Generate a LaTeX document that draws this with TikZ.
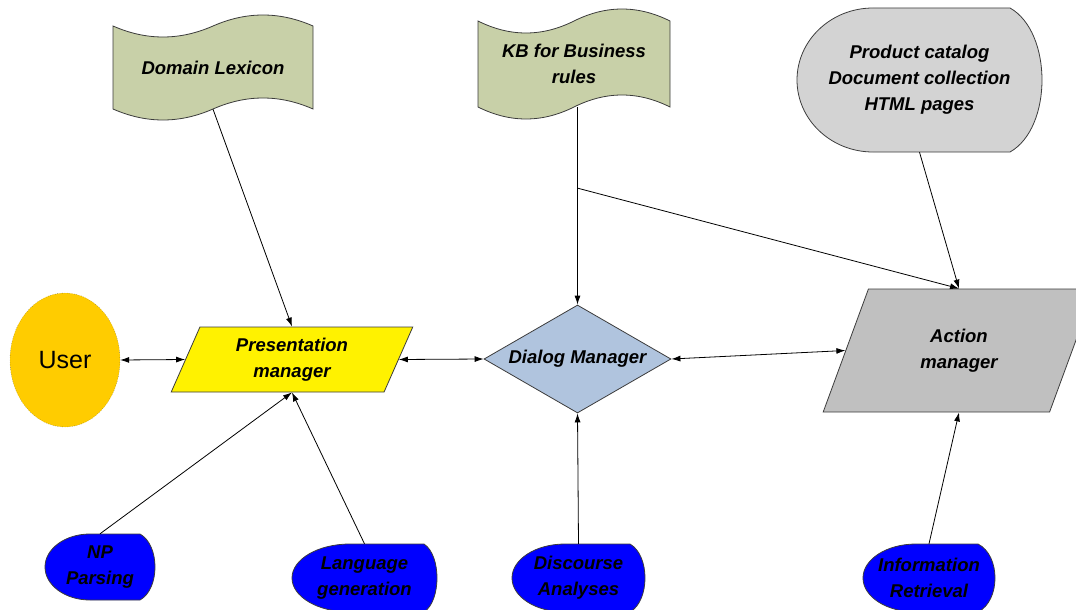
\documentclass[tikz,border=0pt]{standalone}
\usepackage{fontspec}
\setmainfont{Liberation Sans}
\usetikzlibrary{shapes.geometric,arrows.meta,calc}
\definecolor{wavegreen}{RGB}{200,208,168}
\definecolor{catgray}{RGB}{211,211,211}
\definecolor{actgray}{RGB}{192,192,192}
\definecolor{useryellow}{RGB}{255,204,0}
\definecolor{dlgblue}{RGB}{176,196,222}
\definecolor{edgegray}{RGB}{60,60,60}
% name, fill, left, right, top, bottom, left depth, right depth, text
\newcommand\dispnode[9]{%
  \filldraw[fill=#2,draw=edgegray,line width=0.8pt]
    ({#3+#7},#5) -- ({#4-#8},#5)
    .. controls ({#4+#8/3},{#5+(#6-#5)/6}) and ({#4+#8/3},{#6-(#6-#5)/6}) .. ({#4-#8},#6)
    -- ({#3+#7},#6)
    .. controls ({#3+0.448*#7},#6) and (#3,{#6-0.224*(#6-#5)}) .. (#3,{(#5+#6)/2})
    .. controls (#3,{#5+0.224*(#6-#5)}) and ({#3+0.448*#7},#5) .. ({#3+#7},#5) -- cycle;
  \node[lbl,minimum width={#4-#3},minimum height={#6-#5}] (#1) at ({(#3+#4)/2},{(#5+#6)/2}) {#9};}
% name, left, right, top mid, bottom mid, amplitude, text
\newcommand\wavenode[7]{%
  \filldraw[fill=wavegreen,draw=edgegray,line width=0.8pt]
    (#2,#4) .. controls ({#2+(#3-#2)/6},{#4+4*#6/3}) and ({#2+(#3-#2)/3},{#4+4*#6/3}) .. ({(#2+#3)/2},#4)
    .. controls ({#2+2*(#3-#2)/3},{#4-4*#6/3}) and ({#2+5*(#3-#2)/6},{#4-4*#6/3}) .. (#3,#4)
    -- (#3,#5)
    .. controls ({#2+5*(#3-#2)/6},{#5-4*#6/3}) and ({#2+2*(#3-#2)/3},{#5-4*#6/3}) .. ({(#2+#3)/2},#5)
    .. controls ({#2+(#3-#2)/3},{#5+4*#6/3}) and ({#2+(#3-#2)/6},{#5+4*#6/3}) .. (#2,#5) -- cycle;
  \node[lbl,minimum width={#3-#2},minimum height={#5-#4}] (#1) at ({(#2+#3)/2},{(#4+#5)/2}) {#7};}
\begin{document}
\begin{tikzpicture}[x=1pt,y=-1pt,
  lbl/.style={font=\bfseries\itshape\fontsize{18.5}{26}\selectfont,align=center,inner sep=0pt},
  edge/.style={draw=edgegray,line width=0.8pt},
  link/.style={line width=0.8pt,-{Latex[length=9pt,width=6pt]}},
  both/.style={line width=0.8pt,{Latex[length=9pt,width=6pt]}-{Latex[length=9pt,width=6pt]}}]
\useasboundingbox (0,0) rectangle (1076,610);
\clip (0,0) rectangle (1076,610);

\wavenode{lex}{113}{313}{26}{109}{11}{Domain Lexicon}
\wavenode{kb}{478}{670}{21}{107}{12}{KB for Business\\rules}
\dispnode{cat}{catgray}{797}{1042}{8}{152}{76}{32}{Product catalog\\Document collection\\HTML pages}

\node[ellipse,draw=black!70,dotted,fill=useryellow,minimum width=110,minimum height=134,font=\fontsize{25}{30}\selectfont] (user) at (65,360) {User};
\node[lbl,edge,trapezium,trapezium stretches=true,trapezium left angle=68,trapezium right angle=112,minimum width=242,minimum height=65,fill=yellow] (pres) at (292,359.5) {Presentation\\manager};
\node[lbl,edge,diamond,aspect=1.75,minimum width=187,minimum height=108,fill=dlgblue] (dlg) at (577.5,359) {Dialog Manager};
\node[lbl,edge,trapezium,trapezium stretches=true,trapezium left angle=66,trapezium right angle=114,minimum width=272,minimum height=123,fill=actgray] (act) at (959,350.5) {Action\\manager};

\dispnode{np}{blue}{45}{155}{534}{600}{45}{15}{NP\\Parsing}
\dispnode{lang}{blue}{292}{437}{544}{612}{58}{13}{Language\\generation}
\dispnode{disc}{blue}{512}{645}{544}{612}{53}{15}{Discourse\\Analyses}
\dispnode{ir}{blue}{863}{995}{544}{612}{53}{17}{Information\\Retrieval}

\coordinate (kbsplit) at ($(dlg.north |- kb.south)!0.41!(dlg.north)$);
\draw[link] (lex.south) -- (pres.center |- pres.north);
\draw[link] (dlg.north |- kb.south) -- (dlg.north);
\draw[link] (kbsplit) -- (act.center |- act.north);
\draw[link] (cat.south) -- (act.center |- act.north);
\draw[both] (user.east) -- (pres.left side);
\draw[both] (pres.right side) -- (dlg.west);
\draw[both] (dlg.east) -- (act.left side);
\draw[link] (np.north) -- (pres.center |- pres.south);
\draw[link] (lang.north) -- (pres.center |- pres.south);
\draw[link] (disc.north) -- (dlg.south);
\draw[link] (ir.north) -- (act.center |- act.south);
\end{tikzpicture}
\end{document}
